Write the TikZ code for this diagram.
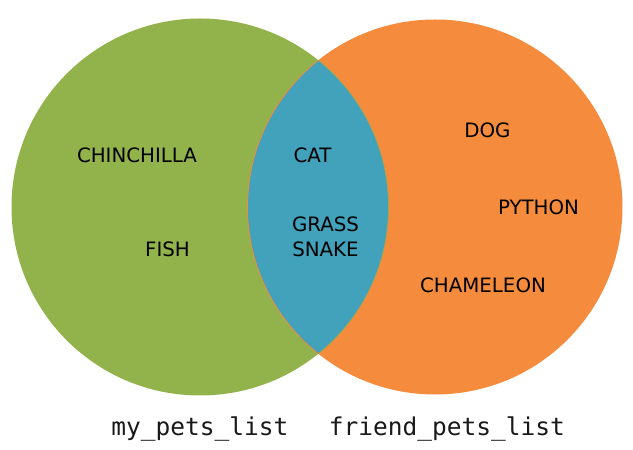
\documentclass[tikz,border=0pt]{standalone}
\usepackage{fontspec}
\setmainfont{DejaVu Sans}
\newfontfamily\monofnt{DejaVu Sans Mono}
\definecolor{vgreen}{RGB}{146,178,75}
\definecolor{vorange}{RGB}{245,139,60}
\definecolor{vblue}{RGB}{66,161,187}
\begin{document}
\begin{tikzpicture}[x=1pt,y=1pt,
  pet/.style={inner sep=0pt, font=\fontsize{19.8}{25}\selectfont, text=black},
  setlabel/.style={inner sep=0pt, anchor=base, font=\monofnt\fontsize{24.5}{28}\selectfont, text=black!90}]
\useasboundingbox (0,0) rectangle (633,450);
% circles
\fill[vgreen] (200,243) circle (188.5);
\fill[vorange] (435,243) circle (187.5);
\begin{scope}
  \clip (200,243) circle (188.5);
  \fill[vblue] (435,243) circle (187.5);
\end{scope}
\begin{scope}
  \clip (200,243) circle (188.5);
  \draw[vorange, line width=0.8pt] (435,243) circle (187.5);
\end{scope}
\begin{scope}
  \clip (435,243) circle (187.5);
  \draw[vgreen!80!vorange, line width=0.6pt] (200,243) circle (188.5);
\end{scope}
% items
\node[pet] (chin) at (137,295) {CHINCHILLA};
\node[pet] (fish) at (167.5,200.5) {FISH};
\node[pet] (cat) at (312.5,294.5) {CAT};
\node[pet, align=center] (grass) at (325.5,213) {GRASS\\SNAKE};
\node[pet] (dog) at (487.5,320) {DOG};
\node[pet] (python) at (538.5,243) {PYTHON};
\node[pet] (cham) at (483,164.5) {CHAMELEON};
% set labels
\node[setlabel] (mylist) at (200,14) {my\_pets\_list};
\node[setlabel] (frlist) at (447,14) {friend\_pets\_list};
\end{tikzpicture}
\end{document}
